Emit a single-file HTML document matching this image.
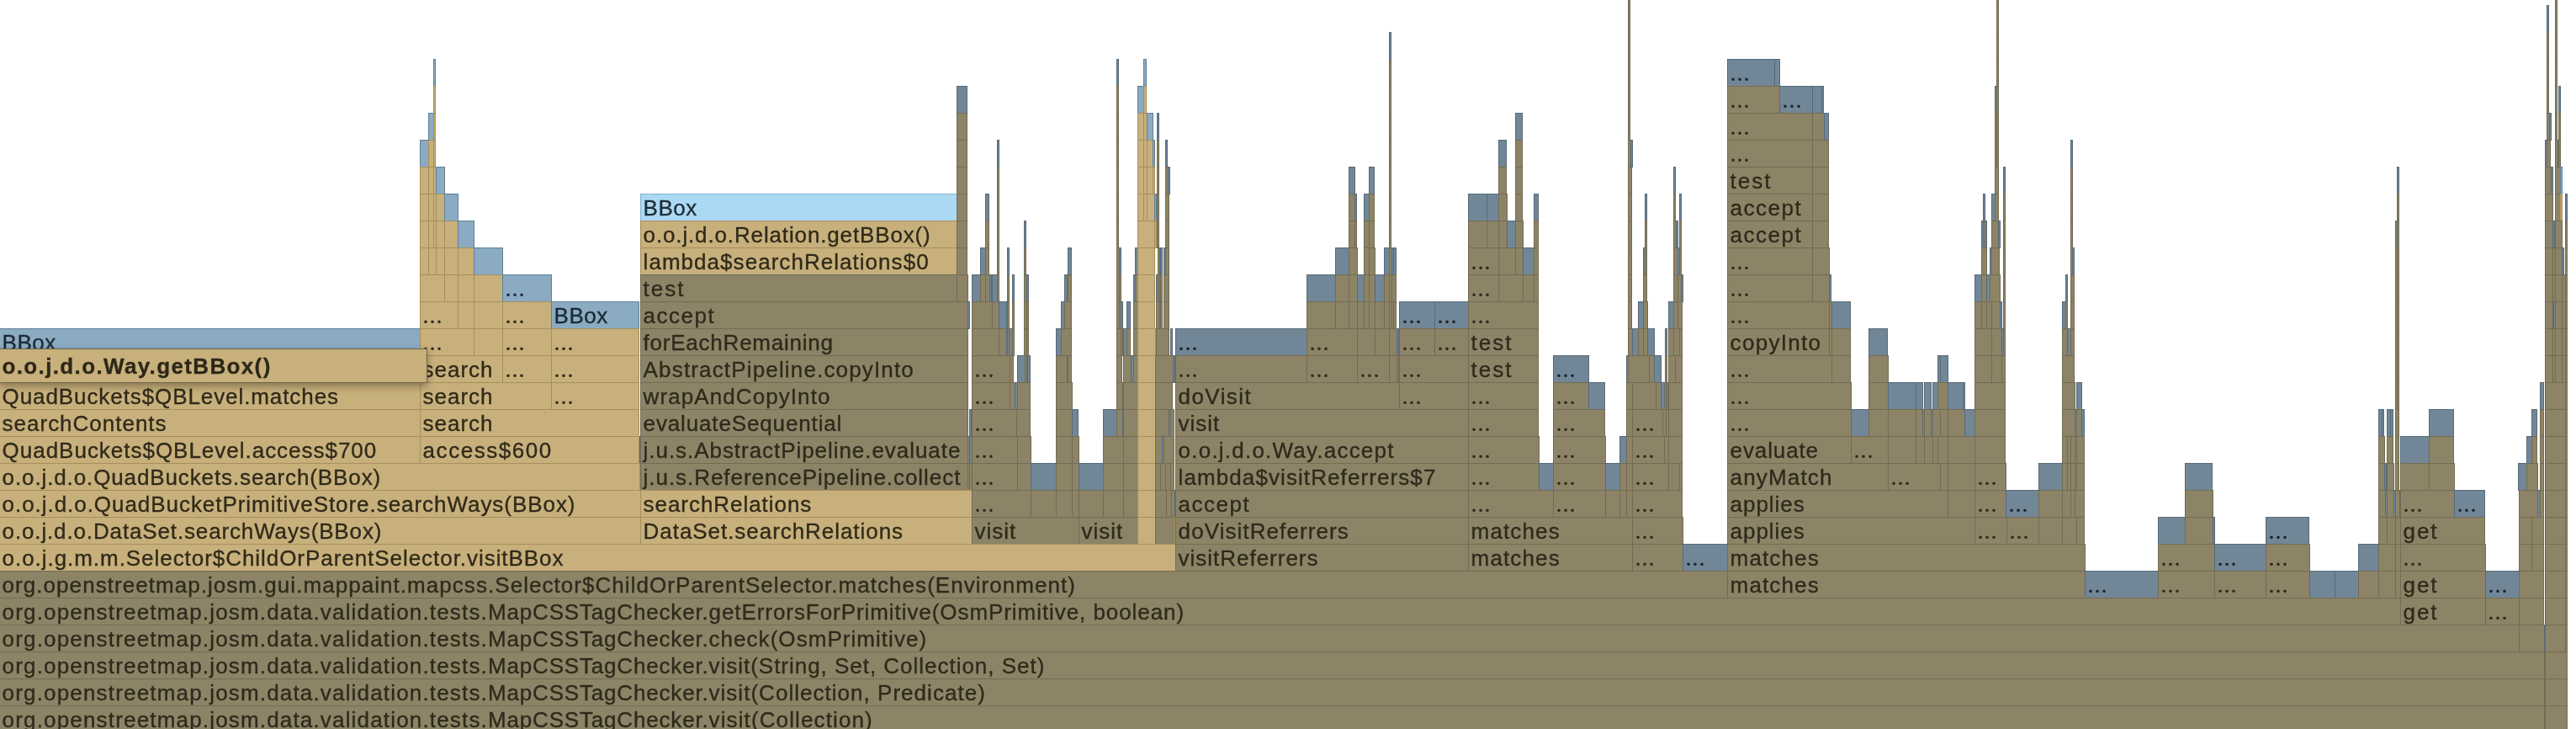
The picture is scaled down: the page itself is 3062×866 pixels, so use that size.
<!DOCTYPE html>
<html><head><meta charset="utf-8"><title>Flame graph</title>
<style>
html,body{margin:0;padding:0;background:#fff;}
body{width:3062px;height:866px;overflow:hidden;position:relative;font-family:"Liberation Sans",sans-serif;}
#g{position:absolute;left:0;top:0;width:3062px;height:866px;overflow:hidden;will-change:transform;}
.f{position:absolute;height:33px;box-sizing:border-box;border:1px solid;overflow:hidden;white-space:nowrap;font-size:26px;line-height:32px;letter-spacing:0.95px;}
.f span{position:absolute;left:2.6px;top:-0.3px;-webkit-text-stroke:0.35px;}
.f i{font-style:normal;}
.f span.d{left:3.2px;top:1.7px;font-family:"Liberation Serif",serif;font-weight:bold;font-size:22px;letter-spacing:2.5px;-webkit-text-stroke:0;}
.S{background:#c7b07b;border-color:#a68f5c;color:#302a1a}
.O{background:#8d8467;border-color:#736b52;color:#2e2a1c}
.B{background:#8aabc2;border-color:#5f7f98;color:#1d2a35}
.D{background:#718797;border-color:#566a79;color:#1b232b}
.L{background:#abd9f3;border-color:#83b3cf;color:#1f2d39}
#tip{position:absolute;left:-1px;top:414px;width:509px;height:41px;box-sizing:border-box;border:1px solid #6f6547;background:#c7b07b;color:#2d2718;font-weight:bold;font-size:26px;line-height:38px;letter-spacing:1.36px;white-space:nowrap;overflow:hidden;box-shadow:0 4px 9px rgba(0,0,0,0.33);-webkit-text-stroke:0.3px;}
#tip span{position:absolute;left:2.5px;top:1px;}
</style></head><body><div id="g">

<div class="f O" style="left:1935px;top:-26px;width:3px"></div>
<div class="f O" style="left:2373px;top:-26px;width:3px"></div>
<div class="f O" style="left:3037px;top:-26px;width:3px"></div>
<div class="f O" style="left:1935px;top:6px;width:3px"></div>
<div class="f O" style="left:2373px;top:6px;width:3px"></div>
<div class="f D" style="left:3027px;top:6px;width:3px"></div>
<div class="f O" style="left:3037px;top:6px;width:3px"></div>
<div class="f D" style="left:1651px;top:38px;width:3px"></div>
<div class="f O" style="left:1935px;top:38px;width:3px"></div>
<div class="f O" style="left:2373px;top:38px;width:3px"></div>
<div class="f O" style="left:3027px;top:38px;width:3px"></div>
<div class="f O" style="left:3037px;top:38px;width:3px"></div>
<div class="f B" style="left:515px;top:70px;width:3px"></div>
<div class="f D" style="left:1327px;top:70px;width:3px"></div>
<div class="f B" style="left:1359px;top:70px;width:4px"></div>
<div class="f O" style="left:1651px;top:70px;width:3px"></div>
<div class="f O" style="left:1935px;top:70px;width:3px"></div>
<div class="f D" style="left:2053px;top:70px;width:57px"><span class="d">...</span></div>
<div class="f D" style="left:2109px;top:70px;width:7px"></div>
<div class="f O" style="left:2373px;top:70px;width:3px"></div>
<div class="f O" style="left:3027px;top:70px;width:3px"></div>
<div class="f O" style="left:3037px;top:70px;width:3px"></div>
<div class="f S" style="left:515px;top:102px;width:3px"></div>
<div class="f D" style="left:1137px;top:102px;width:13px"></div>
<div class="f O" style="left:1327px;top:102px;width:3px"></div>
<div class="f B" style="left:1352px;top:102px;width:8px"></div>
<div class="f S" style="left:1359px;top:102px;width:4px"></div>
<div class="f O" style="left:1651px;top:102px;width:3px"></div>
<div class="f O" style="left:1935px;top:102px;width:3px"></div>
<div class="f O" style="left:2053px;top:102px;width:63px"><span class="d">...</span></div>
<div class="f D" style="left:2115px;top:102px;width:40px"><span class="d">...</span></div>
<div class="f D" style="left:2154px;top:102px;width:12px"></div>
<div class="f D" style="left:2165px;top:102px;width:3px"></div>
<div class="f D" style="left:2371px;top:102px;width:3px"></div>
<div class="f O" style="left:2373px;top:102px;width:3px"></div>
<div class="f O" style="left:3027px;top:102px;width:3px"></div>
<div class="f O" style="left:3037px;top:102px;width:3px"></div>
<div class="f D" style="left:3041px;top:102px;width:3px"></div>
<div class="f B" style="left:509px;top:134px;width:7px"></div>
<div class="f S" style="left:515px;top:134px;width:3px"></div>
<div class="f O" style="left:1137px;top:134px;width:13px"></div>
<div class="f O" style="left:1327px;top:134px;width:3px"></div>
<div class="f S" style="left:1352px;top:134px;width:8px"></div>
<div class="f S" style="left:1359px;top:134px;width:5px"></div>
<div class="f B" style="left:1363px;top:134px;width:8px"></div>
<div class="f D" style="left:1375px;top:134px;width:3px"></div>
<div class="f O" style="left:1651px;top:134px;width:3px"></div>
<div class="f D" style="left:1801px;top:134px;width:9px"></div>
<div class="f O" style="left:1935px;top:134px;width:3px"></div>
<div class="f O" style="left:2053px;top:134px;width:102px"><span class="d">...</span></div>
<div class="f O" style="left:2154px;top:134px;width:15px"></div>
<div class="f D" style="left:2168px;top:134px;width:6px"></div>
<div class="f O" style="left:2371px;top:134px;width:3px"></div>
<div class="f O" style="left:2373px;top:134px;width:3px"></div>
<div class="f O" style="left:3027px;top:134px;width:4px"></div>
<div class="f D" style="left:3030px;top:134px;width:3px"></div>
<div class="f O" style="left:3037px;top:134px;width:3px"></div>
<div class="f O" style="left:3041px;top:134px;width:3px"></div>
<div class="f B" style="left:499px;top:166px;width:11px"></div>
<div class="f S" style="left:509px;top:166px;width:7px"></div>
<div class="f S" style="left:515px;top:166px;width:3px"></div>
<div class="f O" style="left:1137px;top:166px;width:13px"></div>
<div class="f D" style="left:1185px;top:166px;width:3px"></div>
<div class="f O" style="left:1327px;top:166px;width:3px"></div>
<div class="f S" style="left:1352px;top:166px;width:8px"></div>
<div class="f S" style="left:1359px;top:166px;width:5px"></div>
<div class="f S" style="left:1363px;top:166px;width:8px"></div>
<div class="f B" style="left:1370px;top:166px;width:3px"></div>
<div class="f O" style="left:1375px;top:166px;width:3px"></div>
<div class="f D" style="left:1385px;top:166px;width:3px"></div>
<div class="f O" style="left:1651px;top:166px;width:3px"></div>
<div class="f D" style="left:1781px;top:166px;width:10px"></div>
<div class="f O" style="left:1801px;top:166px;width:9px"></div>
<div class="f O" style="left:1935px;top:166px;width:4px"></div>
<div class="f D" style="left:1938px;top:166px;width:3px"></div>
<div class="f O" style="left:2053px;top:166px;width:102px"><span class="d">...</span></div>
<div class="f O" style="left:2154px;top:166px;width:20px"></div>
<div class="f O" style="left:2371px;top:166px;width:3px"></div>
<div class="f O" style="left:2373px;top:166px;width:3px"></div>
<div class="f D" style="left:2461px;top:166px;width:3px"></div>
<div class="f D" style="left:3025px;top:166px;width:3px"></div>
<div class="f O" style="left:3027px;top:166px;width:5px"></div>
<div class="f O" style="left:3037px;top:166px;width:4px"></div>
<div class="f D" style="left:3040px;top:166px;width:2px"></div>
<div class="f O" style="left:3041px;top:166px;width:3px"></div>
<div class="f S" style="left:499px;top:198px;width:11px"></div>
<div class="f S" style="left:509px;top:198px;width:7px"></div>
<div class="f S" style="left:515px;top:198px;width:4px"></div>
<div class="f B" style="left:518px;top:198px;width:11px"></div>
<div class="f O" style="left:1137px;top:198px;width:13px"></div>
<div class="f O" style="left:1185px;top:198px;width:3px"></div>
<div class="f O" style="left:1327px;top:198px;width:3px"></div>
<div class="f S" style="left:1352px;top:198px;width:8px"></div>
<div class="f S" style="left:1359px;top:198px;width:5px"></div>
<div class="f S" style="left:1363px;top:198px;width:8px"></div>
<div class="f S" style="left:1370px;top:198px;width:3px"></div>
<div class="f O" style="left:1375px;top:198px;width:3px"></div>
<div class="f O" style="left:1385px;top:198px;width:4px"></div>
<div class="f D" style="left:1388px;top:198px;width:3px"></div>
<div class="f D" style="left:1603px;top:198px;width:8px"></div>
<div class="f D" style="left:1627px;top:198px;width:7px"></div>
<div class="f O" style="left:1651px;top:198px;width:3px"></div>
<div class="f O" style="left:1781px;top:198px;width:10px"></div>
<div class="f O" style="left:1801px;top:198px;width:9px"></div>
<div class="f O" style="left:1935px;top:198px;width:5px"></div>
<div class="f D" style="left:1989px;top:198px;width:3px"></div>
<div class="f O" style="left:2053px;top:198px;width:102px"><span style="letter-spacing:2.0px">test</span></div>
<div class="f O" style="left:2154px;top:198px;width:20px"></div>
<div class="f O" style="left:2371px;top:198px;width:5px"></div>
<div class="f D" style="left:2381px;top:198px;width:3px"></div>
<div class="f O" style="left:2461px;top:198px;width:3px"></div>
<div class="f D" style="left:2849px;top:198px;width:3px"></div>
<div class="f O" style="left:3025px;top:198px;width:8px"></div>
<div class="f D" style="left:3032px;top:198px;width:3px"></div>
<div class="f O" style="left:3037px;top:198px;width:7px"></div>
<div class="f B" style="left:3043px;top:198px;width:3px"></div>
<div class="f S" style="left:499px;top:230px;width:11px"></div>
<div class="f S" style="left:509px;top:230px;width:7px"></div>
<div class="f S" style="left:515px;top:230px;width:4px"></div>
<div class="f S" style="left:518px;top:230px;width:11px"></div>
<div class="f B" style="left:528px;top:230px;width:17px"></div>
<div class="f L" style="left:761px;top:230px;width:377px"><span style="letter-spacing:0.54px">BBox</span></div>
<div class="f O" style="left:1137px;top:230px;width:13px"></div>
<div class="f D" style="left:1171px;top:230px;width:5px"></div>
<div class="f O" style="left:1185px;top:230px;width:3px"></div>
<div class="f O" style="left:1327px;top:230px;width:3px"></div>
<div class="f S" style="left:1352px;top:230px;width:8px"></div>
<div class="f S" style="left:1359px;top:230px;width:5px"></div>
<div class="f S" style="left:1363px;top:230px;width:10px"></div>
<div class="f B" style="left:1372px;top:230px;width:3px"></div>
<div class="f O" style="left:1375px;top:230px;width:3px"></div>
<div class="f O" style="left:1385px;top:230px;width:5px"></div>
<div class="f O" style="left:1603px;top:230px;width:8px"></div>
<div class="f D" style="left:1610px;top:230px;width:3px"></div>
<div class="f D" style="left:1621px;top:230px;width:7px"></div>
<div class="f O" style="left:1627px;top:230px;width:7px"></div>
<div class="f O" style="left:1651px;top:230px;width:3px"></div>
<div class="f D" style="left:1745px;top:230px;width:23px"></div>
<div class="f D" style="left:1767px;top:230px;width:15px"></div>
<div class="f O" style="left:1781px;top:230px;width:11px"></div>
<div class="f O" style="left:1801px;top:230px;width:9px"></div>
<div class="f D" style="left:1823px;top:230px;width:6px"></div>
<div class="f O" style="left:1935px;top:230px;width:5px"></div>
<div class="f D" style="left:1955px;top:230px;width:3px"></div>
<div class="f O" style="left:1989px;top:230px;width:3px"></div>
<div class="f D" style="left:1996px;top:230px;width:3px"></div>
<div class="f O" style="left:2053px;top:230px;width:102px"><span style="letter-spacing:1.52px">accept</span></div>
<div class="f O" style="left:2154px;top:230px;width:20px"></div>
<div class="f D" style="left:2357px;top:230px;width:3px"></div>
<div class="f D" style="left:2367px;top:230px;width:5px"></div>
<div class="f O" style="left:2371px;top:230px;width:5px"></div>
<div class="f O" style="left:2381px;top:230px;width:3px"></div>
<div class="f O" style="left:2461px;top:230px;width:3px"></div>
<div class="f O" style="left:2849px;top:230px;width:3px"></div>
<div class="f O" style="left:3025px;top:230px;width:10px"></div>
<div class="f O" style="left:3037px;top:230px;width:7px"></div>
<div class="f S" style="left:3043px;top:230px;width:3px"></div>
<div class="f D" style="left:3049px;top:230px;width:3px"></div>
<div class="f S" style="left:499px;top:262px;width:11px"></div>
<div class="f S" style="left:509px;top:262px;width:7px"></div>
<div class="f S" style="left:515px;top:262px;width:4px"></div>
<div class="f S" style="left:518px;top:262px;width:11px"></div>
<div class="f S" style="left:528px;top:262px;width:17px"></div>
<div class="f B" style="left:544px;top:262px;width:20px"></div>
<div class="f S" style="left:761px;top:262px;width:377px"><span style="letter-spacing:0.86px">o.o.j.d.o.Relation.getBBox()</span></div>
<div class="f O" style="left:1137px;top:262px;width:13px"></div>
<div class="f O" style="left:1171px;top:262px;width:5px"></div>
<div class="f O" style="left:1185px;top:262px;width:3px"></div>
<div class="f D" style="left:1217px;top:262px;width:3px"></div>
<div class="f O" style="left:1327px;top:262px;width:3px"></div>
<div class="f S" style="left:1352px;top:262px;width:21px"></div>
<div class="f S" style="left:1372px;top:262px;width:3px"></div>
<div class="f O" style="left:1375px;top:262px;width:3px"></div>
<div class="f O" style="left:1385px;top:262px;width:5px"></div>
<div class="f O" style="left:1603px;top:262px;width:8px"></div>
<div class="f O" style="left:1610px;top:262px;width:3px"></div>
<div class="f O" style="left:1621px;top:262px;width:7px"></div>
<div class="f O" style="left:1627px;top:262px;width:7px"></div>
<div class="f O" style="left:1651px;top:262px;width:3px"></div>
<div class="f O" style="left:1745px;top:262px;width:23px"></div>
<div class="f O" style="left:1767px;top:262px;width:15px"></div>
<div class="f O" style="left:1781px;top:262px;width:11px"></div>
<div class="f D" style="left:1791px;top:262px;width:11px"></div>
<div class="f O" style="left:1801px;top:262px;width:10px"></div>
<div class="f O" style="left:1823px;top:262px;width:6px"></div>
<div class="f O" style="left:1935px;top:262px;width:5px"></div>
<div class="f O" style="left:1955px;top:262px;width:3px"></div>
<div class="f O" style="left:1989px;top:262px;width:4px"></div>
<div class="f D" style="left:1992px;top:262px;width:3px"></div>
<div class="f O" style="left:1996px;top:262px;width:3px"></div>
<div class="f O" style="left:2053px;top:262px;width:102px"><span style="letter-spacing:1.52px">accept</span></div>
<div class="f O" style="left:2154px;top:262px;width:20px"></div>
<div class="f D" style="left:2355px;top:262px;width:3px"></div>
<div class="f O" style="left:2357px;top:262px;width:3px"></div>
<div class="f D" style="left:2359px;top:262px;width:3px"></div>
<div class="f O" style="left:2367px;top:262px;width:9px"></div>
<div class="f D" style="left:2375px;top:262px;width:3px"></div>
<div class="f O" style="left:2381px;top:262px;width:3px"></div>
<div class="f O" style="left:2461px;top:262px;width:3px"></div>
<div class="f D" style="left:2847px;top:262px;width:3px"></div>
<div class="f O" style="left:2849px;top:262px;width:3px"></div>
<div class="f O" style="left:3025px;top:262px;width:10px"></div>
<div class="f D" style="left:3034px;top:262px;width:3px"></div>
<div class="f O" style="left:3037px;top:262px;width:9px"></div>
<div class="f O" style="left:3049px;top:262px;width:3px"></div>
<div class="f S" style="left:499px;top:294px;width:11px"></div>
<div class="f S" style="left:509px;top:294px;width:10px"></div>
<div class="f S" style="left:518px;top:294px;width:11px"></div>
<div class="f S" style="left:528px;top:294px;width:17px"></div>
<div class="f S" style="left:544px;top:294px;width:20px"></div>
<div class="f B" style="left:563px;top:294px;width:35px"></div>
<div class="f S" style="left:761px;top:294px;width:377px"><span style="letter-spacing:1.04px">lambda$searchRelations$0</span></div>
<div class="f O" style="left:1137px;top:294px;width:13px"></div>
<div class="f D" style="left:1165px;top:294px;width:7px"></div>
<div class="f O" style="left:1171px;top:294px;width:5px"></div>
<div class="f O" style="left:1185px;top:294px;width:3px"></div>
<div class="f D" style="left:1197px;top:294px;width:3px"></div>
<div class="f O" style="left:1217px;top:294px;width:3px"></div>
<div class="f D" style="left:1269px;top:294px;width:5px"></div>
<div class="f O" style="left:1327px;top:294px;width:4px"></div>
<div class="f D" style="left:1330px;top:294px;width:3px"></div>
<div class="f D" style="left:1349px;top:294px;width:4px"></div>
<div class="f S" style="left:1352px;top:294px;width:21px"></div>
<div class="f O" style="left:1376px;top:294px;width:3px"></div>
<div class="f D" style="left:1379px;top:294px;width:3px"></div>
<div class="f D" style="left:1383px;top:294px;width:3px"></div>
<div class="f O" style="left:1385px;top:294px;width:5px"></div>
<div class="f D" style="left:1587px;top:294px;width:17px"></div>
<div class="f O" style="left:1603px;top:294px;width:11px"></div>
<div class="f O" style="left:1621px;top:294px;width:7px"></div>
<div class="f O" style="left:1627px;top:294px;width:8px"></div>
<div class="f D" style="left:1645px;top:294px;width:7px"></div>
<div class="f O" style="left:1651px;top:294px;width:4px"></div>
<div class="f D" style="left:1654px;top:294px;width:3px"></div>
<div class="f D" style="left:1656px;top:294px;width:4px"></div>
<div class="f O" style="left:1745px;top:294px;width:37px"><span class="d">...</span></div>
<div class="f O" style="left:1781px;top:294px;width:21px"></div>
<div class="f O" style="left:1801px;top:294px;width:10px"></div>
<div class="f D" style="left:1810px;top:294px;width:14px"></div>
<div class="f O" style="left:1823px;top:294px;width:6px"></div>
<div class="f O" style="left:1935px;top:294px;width:5px"></div>
<div class="f D" style="left:1953px;top:294px;width:3px"></div>
<div class="f O" style="left:1955px;top:294px;width:3px"></div>
<div class="f O" style="left:1989px;top:294px;width:6px"></div>
<div class="f D" style="left:1994px;top:294px;width:3px"></div>
<div class="f O" style="left:1996px;top:294px;width:3px"></div>
<div class="f O" style="left:2053px;top:294px;width:102px"><span class="d">...</span></div>
<div class="f O" style="left:2154px;top:294px;width:21px"></div>
<div class="f O" style="left:2355px;top:294px;width:7px"></div>
<div class="f D" style="left:2365px;top:294px;width:3px"></div>
<div class="f O" style="left:2367px;top:294px;width:10px"></div>
<div class="f O" style="left:2381px;top:294px;width:3px"></div>
<div class="f O" style="left:2461px;top:294px;width:3px"></div>
<div class="f D" style="left:2463px;top:294px;width:3px"></div>
<div class="f O" style="left:2847px;top:294px;width:3px"></div>
<div class="f O" style="left:2849px;top:294px;width:3px"></div>
<div class="f O" style="left:3025px;top:294px;width:10px"></div>
<div class="f O" style="left:3034px;top:294px;width:4px"></div>
<div class="f O" style="left:3037px;top:294px;width:9px"></div>
<div class="f D" style="left:3045px;top:294px;width:3px"></div>
<div class="f O" style="left:3049px;top:294px;width:3px"></div>
<div class="f S" style="left:499px;top:326px;width:30px"></div>
<div class="f S" style="left:528px;top:326px;width:17px"></div>
<div class="f S" style="left:544px;top:326px;width:20px"></div>
<div class="f S" style="left:563px;top:326px;width:35px"></div>
<div class="f B" style="left:597px;top:326px;width:59px"><span class="d">...</span></div>
<div class="f O" style="left:761px;top:326px;width:377px"><span style="letter-spacing:2.0px">test</span></div>
<div class="f O" style="left:1137px;top:326px;width:14px"></div>
<div class="f D" style="left:1155px;top:326px;width:11px"></div>
<div class="f O" style="left:1165px;top:326px;width:7px"></div>
<div class="f O" style="left:1171px;top:326px;width:6px"></div>
<div class="f D" style="left:1176px;top:326px;width:3px"></div>
<div class="f D" style="left:1178px;top:326px;width:2px"></div>
<div class="f D" style="left:1179px;top:326px;width:7px"></div>
<div class="f O" style="left:1185px;top:326px;width:3px"></div>
<div class="f O" style="left:1197px;top:326px;width:3px"></div>
<div class="f D" style="left:1203px;top:326px;width:3px"></div>
<div class="f O" style="left:1217px;top:326px;width:4px"></div>
<div class="f D" style="left:1220px;top:326px;width:3px"></div>
<div class="f D" style="left:1265px;top:326px;width:4px"></div>
<div class="f O" style="left:1268px;top:326px;width:2px"></div>
<div class="f O" style="left:1269px;top:326px;width:5px"></div>
<div class="f O" style="left:1327px;top:326px;width:4px"></div>
<div class="f O" style="left:1330px;top:326px;width:3px"></div>
<div class="f D" style="left:1347px;top:326px;width:3px"></div>
<div class="f O" style="left:1349px;top:326px;width:4px"></div>
<div class="f S" style="left:1352px;top:326px;width:21px"></div>
<div class="f D" style="left:1374px;top:326px;width:3px"></div>
<div class="f O" style="left:1376px;top:326px;width:3px"></div>
<div class="f O" style="left:1379px;top:326px;width:3px"></div>
<div class="f O" style="left:1383px;top:326px;width:7px"></div>
<div class="f D" style="left:1553px;top:326px;width:35px"></div>
<div class="f O" style="left:1587px;top:326px;width:17px"></div>
<div class="f O" style="left:1603px;top:326px;width:11px"></div>
<div class="f D" style="left:1613px;top:326px;width:9px"></div>
<div class="f O" style="left:1621px;top:326px;width:7px"></div>
<div class="f O" style="left:1627px;top:326px;width:8px"></div>
<div class="f D" style="left:1634px;top:326px;width:12px"></div>
<div class="f O" style="left:1645px;top:326px;width:7px"></div>
<div class="f O" style="left:1651px;top:326px;width:4px"></div>
<div class="f O" style="left:1654px;top:326px;width:6px"></div>
<div class="f O" style="left:1745px;top:326px;width:37px"><span class="d">...</span></div>
<div class="f O" style="left:1781px;top:326px;width:30px"></div>
<div class="f O" style="left:1810px;top:326px;width:14px"></div>
<div class="f O" style="left:1823px;top:326px;width:6px"></div>
<div class="f O" style="left:1935px;top:326px;width:5px"></div>
<div class="f O" style="left:1953px;top:326px;width:5px"></div>
<div class="f O" style="left:1989px;top:326px;width:6px"></div>
<div class="f O" style="left:1994px;top:326px;width:5px"></div>
<div class="f D" style="left:1998px;top:326px;width:3px"></div>
<div class="f O" style="left:2053px;top:326px;width:102px"><span class="d">...</span></div>
<div class="f O" style="left:2154px;top:326px;width:21px"></div>
<div class="f D" style="left:2174px;top:326px;width:3px"></div>
<div class="f D" style="left:2347px;top:326px;width:9px"></div>
<div class="f O" style="left:2355px;top:326px;width:7px"></div>
<div class="f D" style="left:2361px;top:326px;width:5px"></div>
<div class="f O" style="left:2365px;top:326px;width:13px"></div>
<div class="f O" style="left:2381px;top:326px;width:3px"></div>
<div class="f D" style="left:2455px;top:326px;width:3px"></div>
<div class="f O" style="left:2461px;top:326px;width:5px"></div>
<div class="f O" style="left:2847px;top:326px;width:3px"></div>
<div class="f O" style="left:2849px;top:326px;width:3px"></div>
<div class="f O" style="left:3025px;top:326px;width:10px"></div>
<div class="f O" style="left:3034px;top:326px;width:4px"></div>
<div class="f O" style="left:3037px;top:326px;width:9px"></div>
<div class="f O" style="left:3045px;top:326px;width:5px"></div>
<div class="f O" style="left:3049px;top:326px;width:3px"></div>
<div class="f S" style="left:499px;top:358px;width:46px"><span class="d">...</span></div>
<div class="f S" style="left:544px;top:358px;width:20px"></div>
<div class="f S" style="left:563px;top:358px;width:35px"></div>
<div class="f S" style="left:597px;top:358px;width:59px"><span class="d">...</span></div>
<div class="f B" style="left:655px;top:358px;width:105px"><span style="letter-spacing:0.54px">BBox</span></div>
<div class="f O" style="left:761px;top:358px;width:390px"><span style="letter-spacing:1.52px">accept</span></div>
<div class="f D" style="left:1150px;top:358px;width:3px"></div>
<div class="f O" style="left:1155px;top:358px;width:25px"></div>
<div class="f O" style="left:1179px;top:358px;width:9px"></div>
<div class="f D" style="left:1187px;top:358px;width:10px"></div>
<div class="f O" style="left:1197px;top:358px;width:3px"></div>
<div class="f O" style="left:1203px;top:358px;width:3px"></div>
<div class="f O" style="left:1217px;top:358px;width:4px"></div>
<div class="f O" style="left:1220px;top:358px;width:3px"></div>
<div class="f D" style="left:1261px;top:358px;width:5px"></div>
<div class="f O" style="left:1265px;top:358px;width:9px"></div>
<div class="f O" style="left:1327px;top:358px;width:4px"></div>
<div class="f O" style="left:1330px;top:358px;width:3px"></div>
<div class="f D" style="left:1332px;top:358px;width:3px"></div>
<div class="f D" style="left:1339px;top:358px;width:5px"></div>
<div class="f O" style="left:1347px;top:358px;width:6px"></div>
<div class="f S" style="left:1352px;top:358px;width:21px"></div>
<div class="f O" style="left:1374px;top:358px;width:5px"></div>
<div class="f D" style="left:1378px;top:358px;width:2px"></div>
<div class="f O" style="left:1379px;top:358px;width:3px"></div>
<div class="f O" style="left:1383px;top:358px;width:7px"></div>
<div class="f O" style="left:1553px;top:358px;width:35px"></div>
<div class="f O" style="left:1587px;top:358px;width:17px"></div>
<div class="f O" style="left:1603px;top:358px;width:11px"></div>
<div class="f O" style="left:1613px;top:358px;width:9px"></div>
<div class="f O" style="left:1621px;top:358px;width:7px"></div>
<div class="f O" style="left:1627px;top:358px;width:8px"></div>
<div class="f O" style="left:1634px;top:358px;width:12px"></div>
<div class="f O" style="left:1645px;top:358px;width:7px"></div>
<div class="f O" style="left:1651px;top:358px;width:4px"></div>
<div class="f O" style="left:1654px;top:358px;width:3px"></div>
<div class="f O" style="left:1656px;top:358px;width:4px"></div>
<div class="f D" style="left:1663px;top:358px;width:43px"><span class="d">...</span></div>
<div class="f D" style="left:1705px;top:358px;width:41px"><span class="d">...</span></div>
<div class="f O" style="left:1745px;top:358px;width:84px"><span class="d">...</span></div>
<div class="f O" style="left:1935px;top:358px;width:5px"></div>
<div class="f D" style="left:1947px;top:358px;width:7px"></div>
<div class="f O" style="left:1953px;top:358px;width:6px"></div>
<div class="f D" style="left:1983px;top:358px;width:7px"></div>
<div class="f O" style="left:1989px;top:358px;width:6px"></div>
<div class="f O" style="left:1994px;top:358px;width:6px"></div>
<div class="f O" style="left:2053px;top:358px;width:122px"><span class="d">...</span></div>
<div class="f O" style="left:2174px;top:358px;width:4px"></div>
<div class="f D" style="left:2177px;top:358px;width:23px"></div>
<div class="f O" style="left:2347px;top:358px;width:9px"></div>
<div class="f O" style="left:2355px;top:358px;width:7px"></div>
<div class="f O" style="left:2361px;top:358px;width:7px"></div>
<div class="f O" style="left:2367px;top:358px;width:11px"></div>
<div class="f D" style="left:2377px;top:358px;width:3px"></div>
<div class="f O" style="left:2381px;top:358px;width:3px"></div>
<div class="f D" style="left:2451px;top:358px;width:5px"></div>
<div class="f O" style="left:2455px;top:358px;width:3px"></div>
<div class="f O" style="left:2461px;top:358px;width:5px"></div>
<div class="f O" style="left:2847px;top:358px;width:3px"></div>
<div class="f O" style="left:2849px;top:358px;width:3px"></div>
<div class="f O" style="left:3025px;top:358px;width:10px"></div>
<div class="f O" style="left:3034px;top:358px;width:4px"></div>
<div class="f D" style="left:3035px;top:358px;width:3px"></div>
<div class="f O" style="left:3037px;top:358px;width:9px"></div>
<div class="f O" style="left:3045px;top:358px;width:5px"></div>
<div class="f O" style="left:3049px;top:358px;width:3px"></div>
<div class="f B" style="left:-1px;top:390px;width:501px"><span style="letter-spacing:0.54px">BBox</span></div>
<div class="f S" style="left:499px;top:390px;width:65px"><span class="d">...</span></div>
<div class="f S" style="left:563px;top:390px;width:35px"></div>
<div class="f S" style="left:597px;top:390px;width:59px"><span class="d">...</span></div>
<div class="f S" style="left:655px;top:390px;width:105px"><span class="d">...</span></div>
<div class="f O" style="left:761px;top:390px;width:390px"><span style="letter-spacing:0.77px">forEachRemaining</span></div>
<div class="f O" style="left:1155px;top:390px;width:33px"></div>
<div class="f O" style="left:1187px;top:390px;width:10px"></div>
<div class="f D" style="left:1196px;top:390px;width:2px"></div>
<div class="f O" style="left:1197px;top:390px;width:3px"></div>
<div class="f D" style="left:1199px;top:390px;width:5px"></div>
<div class="f O" style="left:1203px;top:390px;width:3px"></div>
<div class="f O" style="left:1217px;top:390px;width:4px"></div>
<div class="f O" style="left:1220px;top:390px;width:3px"></div>
<div class="f D" style="left:1255px;top:390px;width:7px"></div>
<div class="f O" style="left:1261px;top:390px;width:13px"></div>
<div class="f O" style="left:1327px;top:390px;width:6px"></div>
<div class="f O" style="left:1332px;top:390px;width:3px"></div>
<div class="f D" style="left:1335px;top:390px;width:5px"></div>
<div class="f O" style="left:1339px;top:390px;width:5px"></div>
<div class="f O" style="left:1347px;top:390px;width:6px"></div>
<div class="f S" style="left:1352px;top:390px;width:22px"></div>
<div class="f O" style="left:1374px;top:390px;width:16px"></div>
<div class="f D" style="left:1391px;top:390px;width:3px"></div>
<div class="f D" style="left:1397px;top:390px;width:157px"><span class="d">...</span></div>
<div class="f O" style="left:1553px;top:390px;width:61px"><span class="d">...</span></div>
<div class="f O" style="left:1613px;top:390px;width:22px"></div>
<div class="f O" style="left:1634px;top:390px;width:18px"></div>
<div class="f O" style="left:1651px;top:390px;width:10px"></div>
<div class="f D" style="left:1660px;top:390px;width:3px"></div>
<div class="f O" style="left:1663px;top:390px;width:43px"><span class="d">...</span></div>
<div class="f O" style="left:1705px;top:390px;width:41px"><span class="d">...</span></div>
<div class="f O" style="left:1745px;top:390px;width:84px"><span style="letter-spacing:2.0px">test</span></div>
<div class="f O" style="left:1935px;top:390px;width:6px"></div>
<div class="f D" style="left:1940px;top:390px;width:8px"></div>
<div class="f O" style="left:1947px;top:390px;width:7px"></div>
<div class="f O" style="left:1953px;top:390px;width:6px"></div>
<div class="f D" style="left:1958px;top:390px;width:9px"></div>
<div class="f D" style="left:1979px;top:390px;width:3px"></div>
<div class="f O" style="left:1983px;top:390px;width:7px"></div>
<div class="f O" style="left:1989px;top:390px;width:8px"></div>
<div class="f O" style="left:1996px;top:390px;width:4px"></div>
<div class="f O" style="left:2053px;top:390px;width:122px"><span style="letter-spacing:1.31px">copyInto</span></div>
<div class="f O" style="left:2174px;top:390px;width:4px"></div>
<div class="f O" style="left:2177px;top:390px;width:23px"></div>
<div class="f D" style="left:2221px;top:390px;width:23px"></div>
<div class="f O" style="left:2347px;top:390px;width:21px"></div>
<div class="f O" style="left:2367px;top:390px;width:13px"></div>
<div class="f D" style="left:2379px;top:390px;width:3px"></div>
<div class="f O" style="left:2381px;top:390px;width:3px"></div>
<div class="f O" style="left:2451px;top:390px;width:7px"></div>
<div class="f D" style="left:2457px;top:390px;width:5px"></div>
<div class="f O" style="left:2461px;top:390px;width:5px"></div>
<div class="f O" style="left:2847px;top:390px;width:3px"></div>
<div class="f O" style="left:2849px;top:390px;width:3px"></div>
<div class="f O" style="left:3025px;top:390px;width:10px"></div>
<div class="f O" style="left:3034px;top:390px;width:4px"></div>
<div class="f O" style="left:3037px;top:390px;width:9px"></div>
<div class="f O" style="left:3045px;top:390px;width:5px"></div>
<div class="f O" style="left:3049px;top:390px;width:3px"></div>
<div class="f S" style="left:-1px;top:422px;width:501px"></div>
<div class="f S" style="left:499px;top:422px;width:99px"><span style="letter-spacing:0.98px">search</span></div>
<div class="f S" style="left:597px;top:422px;width:59px"><span class="d">...</span></div>
<div class="f S" style="left:655px;top:422px;width:105px"><span class="d">...</span></div>
<div class="f O" style="left:761px;top:422px;width:390px"><span style="letter-spacing:1.16px">AbstractPipeline.copyInto</span></div>
<div class="f O" style="left:1155px;top:422px;width:46px"><span class="d">...</span></div>
<div class="f O" style="left:1200px;top:422px;width:5px"></div>
<div class="f D" style="left:1209px;top:422px;width:10px"></div>
<div class="f O" style="left:1218px;top:422px;width:3px"></div>
<div class="f O" style="left:1220px;top:422px;width:2px"></div>
<div class="f D" style="left:1221px;top:422px;width:4px"></div>
<div class="f O" style="left:1255px;top:422px;width:14px"></div>
<div class="f D" style="left:1268px;top:422px;width:2px"></div>
<div class="f O" style="left:1269px;top:422px;width:5px"></div>
<div class="f O" style="left:1327px;top:422px;width:7px"></div>
<div class="f O" style="left:1335px;top:422px;width:10px"></div>
<div class="f D" style="left:1344px;top:422px;width:4px"></div>
<div class="f O" style="left:1347px;top:422px;width:6px"></div>
<div class="f S" style="left:1352px;top:422px;width:22px"></div>
<div class="f O" style="left:1373px;top:422px;width:22px"></div>
<div class="f D" style="left:1394px;top:422px;width:3px"></div>
<div class="f O" style="left:1397px;top:422px;width:157px"><span class="d">...</span></div>
<div class="f O" style="left:1553px;top:422px;width:61px"><span class="d">...</span></div>
<div class="f O" style="left:1613px;top:422px;width:39px"><span class="d">...</span></div>
<div class="f O" style="left:1651px;top:422px;width:10px"></div>
<div class="f O" style="left:1660px;top:422px;width:3px"></div>
<div class="f O" style="left:1663px;top:422px;width:83px"><span class="d">...</span></div>
<div class="f O" style="left:1745px;top:422px;width:84px"><span style="letter-spacing:2.0px">test</span></div>
<div class="f D" style="left:1846px;top:422px;width:43px"><span class="d">...</span></div>
<div class="f D" style="left:1933px;top:422px;width:3px"></div>
<div class="f O" style="left:1935px;top:422px;width:26px"></div>
<div class="f O" style="left:1960px;top:422px;width:7px"></div>
<div class="f D" style="left:1966px;top:422px;width:9px"></div>
<div class="f O" style="left:1979px;top:422px;width:3px"></div>
<div class="f O" style="left:1983px;top:422px;width:9px"></div>
<div class="f O" style="left:1991px;top:422px;width:9px"></div>
<div class="f O" style="left:2053px;top:422px;width:125px"><span class="d">...</span></div>
<div class="f O" style="left:2177px;top:422px;width:23px"></div>
<div class="f O" style="left:2221px;top:422px;width:24px"></div>
<div class="f D" style="left:2303px;top:422px;width:4px"></div>
<div class="f D" style="left:2306px;top:422px;width:10px"></div>
<div class="f O" style="left:2347px;top:422px;width:21px"></div>
<div class="f O" style="left:2367px;top:422px;width:13px"></div>
<div class="f O" style="left:2379px;top:422px;width:5px"></div>
<div class="f O" style="left:2451px;top:422px;width:15px"></div>
<div class="f O" style="left:2847px;top:422px;width:3px"></div>
<div class="f O" style="left:2849px;top:422px;width:3px"></div>
<div class="f O" style="left:3025px;top:422px;width:10px"></div>
<div class="f O" style="left:3034px;top:422px;width:4px"></div>
<div class="f O" style="left:3037px;top:422px;width:9px"></div>
<div class="f O" style="left:3045px;top:422px;width:5px"></div>
<div class="f O" style="left:3049px;top:422px;width:3px"></div>
<div class="f S" style="left:-1px;top:454px;width:501px"><span style="letter-spacing:0.91px">QuadBuckets$QBLevel.matches</span></div>
<div class="f S" style="left:499px;top:454px;width:157px"><span style="letter-spacing:0.98px">search</span></div>
<div class="f S" style="left:655px;top:454px;width:105px"><span class="d">...</span></div>
<div class="f O" style="left:761px;top:454px;width:390px"><span style="letter-spacing:1.08px">wrapAndCopyInto</span></div>
<div class="f O" style="left:1155px;top:454px;width:46px"><span class="d">...</span></div>
<div class="f O" style="left:1200px;top:454px;width:7px"></div>
<div class="f D" style="left:1206px;top:454px;width:4px"></div>
<div class="f O" style="left:1209px;top:454px;width:16px"></div>
<div class="f O" style="left:1255px;top:454px;width:20px"></div>
<div class="f O" style="left:1327px;top:454px;width:8px"></div>
<div class="f O" style="left:1335px;top:454px;width:18px"></div>
<div class="f S" style="left:1352px;top:454px;width:22px"></div>
<div class="f O" style="left:1373px;top:454px;width:21px"></div>
<div class="f O" style="left:1397px;top:454px;width:267px"><span style="letter-spacing:1.42px">doVisit</span></div>
<div class="f O" style="left:1663px;top:454px;width:83px"><span class="d">...</span></div>
<div class="f O" style="left:1745px;top:454px;width:84px"><span class="d">...</span></div>
<div class="f O" style="left:1846px;top:454px;width:43px"><span class="d">...</span></div>
<div class="f D" style="left:1888px;top:454px;width:20px"></div>
<div class="f O" style="left:1933px;top:454px;width:8px"></div>
<div class="f O" style="left:1940px;top:454px;width:29px"></div>
<div class="f O" style="left:1968px;top:454px;width:7px"></div>
<div class="f D" style="left:1974px;top:454px;width:5px"></div>
<div class="f O" style="left:1978px;top:454px;width:3px"></div>
<div class="f D" style="left:1980px;top:454px;width:3px"></div>
<div class="f O" style="left:1982px;top:454px;width:2px"></div>
<div class="f O" style="left:1983px;top:454px;width:17px"></div>
<div class="f O" style="left:2053px;top:454px;width:148px"><span class="d">...</span></div>
<div class="f O" style="left:2221px;top:454px;width:24px"></div>
<div class="f D" style="left:2244px;top:454px;width:34px"></div>
<div class="f D" style="left:2277px;top:454px;width:9px"></div>
<div class="f D" style="left:2287px;top:454px;width:9px"></div>
<div class="f D" style="left:2297px;top:454px;width:7px"></div>
<div class="f O" style="left:2303px;top:454px;width:13px"></div>
<div class="f D" style="left:2315px;top:454px;width:19px"></div>
<div class="f D" style="left:2333px;top:454px;width:3px"></div>
<div class="f O" style="left:2347px;top:454px;width:37px"></div>
<div class="f O" style="left:2451px;top:454px;width:16px"></div>
<div class="f D" style="left:2468px;top:454px;width:7px"></div>
<div class="f O" style="left:2847px;top:454px;width:3px"></div>
<div class="f O" style="left:2849px;top:454px;width:3px"></div>
<div class="f D" style="left:3019px;top:454px;width:5px"></div>
<div class="f O" style="left:3025px;top:454px;width:25px"></div>
<div class="f O" style="left:3049px;top:454px;width:3px"></div>
<div class="f S" style="left:-1px;top:486px;width:501px"><span style="letter-spacing:0.99px">searchContents</span></div>
<div class="f S" style="left:499px;top:486px;width:261px"><span style="letter-spacing:0.98px">search</span></div>
<div class="f O" style="left:761px;top:486px;width:390px"><span style="letter-spacing:0.86px">evaluateSequential</span></div>
<div class="f D" style="left:1152px;top:486px;width:3px"></div>
<div class="f O" style="left:1155px;top:486px;width:54px"><span class="d">...</span></div>
<div class="f O" style="left:1208px;top:486px;width:17px"></div>
<div class="f O" style="left:1255px;top:486px;width:20px"></div>
<div class="f D" style="left:1274px;top:486px;width:8px"></div>
<div class="f D" style="left:1311px;top:486px;width:17px"></div>
<div class="f O" style="left:1327px;top:486px;width:8px"></div>
<div class="f D" style="left:1334px;top:486px;width:2px"></div>
<div class="f O" style="left:1335px;top:486px;width:18px"></div>
<div class="f S" style="left:1352px;top:486px;width:22px"></div>
<div class="f O" style="left:1373px;top:486px;width:17px"></div>
<div class="f D" style="left:1389px;top:486px;width:3px"></div>
<div class="f O" style="left:1391px;top:486px;width:5px"></div>
<div class="f O" style="left:1397px;top:486px;width:349px"><span>visit</span></div>
<div class="f O" style="left:1745px;top:486px;width:84px"><span class="d">...</span></div>
<div class="f O" style="left:1846px;top:486px;width:62px"><span class="d">...</span></div>
<div class="f O" style="left:1933px;top:486px;width:8px"></div>
<div class="f O" style="left:1940px;top:486px;width:37px"><span class="d">...</span></div>
<div class="f O" style="left:1976px;top:486px;width:5px"></div>
<div class="f O" style="left:1980px;top:486px;width:4px"></div>
<div class="f O" style="left:1983px;top:486px;width:17px"></div>
<div class="f O" style="left:2053px;top:486px;width:148px"><span class="d">...</span></div>
<div class="f D" style="left:2200px;top:486px;width:22px"></div>
<div class="f O" style="left:2221px;top:486px;width:24px"></div>
<div class="f O" style="left:2244px;top:486px;width:34px"></div>
<div class="f O" style="left:2277px;top:486px;width:9px"></div>
<div class="f D" style="left:2285px;top:486px;width:3px"></div>
<div class="f O" style="left:2287px;top:486px;width:9px"></div>
<div class="f D" style="left:2295px;top:486px;width:3px"></div>
<div class="f O" style="left:2297px;top:486px;width:10px"></div>
<div class="f O" style="left:2306px;top:486px;width:10px"></div>
<div class="f O" style="left:2315px;top:486px;width:21px"></div>
<div class="f D" style="left:2335px;top:486px;width:13px"></div>
<div class="f O" style="left:2347px;top:486px;width:37px"></div>
<div class="f O" style="left:2451px;top:486px;width:16px"></div>
<div class="f D" style="left:2466px;top:486px;width:3px"></div>
<div class="f O" style="left:2468px;top:486px;width:7px"></div>
<div class="f D" style="left:2474px;top:486px;width:4px"></div>
<div class="f D" style="left:2827px;top:486px;width:5px"></div>
<div class="f D" style="left:2831px;top:486px;width:3px"></div>
<div class="f D" style="left:2837px;top:486px;width:5px"></div>
<div class="f D" style="left:2841px;top:486px;width:4px"></div>
<div class="f O" style="left:2847px;top:486px;width:5px"></div>
<div class="f D" style="left:2887px;top:486px;width:30px"></div>
<div class="f D" style="left:3009px;top:486px;width:7px"></div>
<div class="f O" style="left:3019px;top:486px;width:5px"></div>
<div class="f O" style="left:3025px;top:486px;width:25px"></div>
<div class="f O" style="left:3049px;top:486px;width:3px"></div>
<div class="f S" style="left:-1px;top:518px;width:501px"><span style="letter-spacing:0.98px">QuadBuckets$QBLevel.access$700</span></div>
<div class="f S" style="left:499px;top:518px;width:261px"><span style="letter-spacing:1.54px">access$600</span></div>
<div class="f D" style="left:760px;top:518px;width:2px"></div>
<div class="f O" style="left:761px;top:518px;width:390px"><span>j.u.s.AbstractPipeline.evaluate</span></div>
<div class="f O" style="left:1150px;top:518px;width:3px"></div>
<div class="f D" style="left:1152px;top:518px;width:4px"></div>
<div class="f O" style="left:1155px;top:518px;width:55px"><span class="d">...</span></div>
<div class="f O" style="left:1209px;top:518px;width:17px"></div>
<div class="f O" style="left:1255px;top:518px;width:20px"></div>
<div class="f O" style="left:1274px;top:518px;width:9px"></div>
<div class="f O" style="left:1311px;top:518px;width:25px"></div>
<div class="f O" style="left:1335px;top:518px;width:18px"></div>
<div class="f S" style="left:1352px;top:518px;width:22px"></div>
<div class="f O" style="left:1373px;top:518px;width:9px"></div>
<div class="f D" style="left:1381px;top:518px;width:3px"></div>
<div class="f O" style="left:1383px;top:518px;width:13px"></div>
<div class="f O" style="left:1397px;top:518px;width:349px"><span style="letter-spacing:1.22px">o.o.j.d.o.Way.accept</span></div>
<div class="f O" style="left:1745px;top:518px;width:85px"><span class="d">...</span></div>
<div class="f O" style="left:1846px;top:518px;width:63px"><span class="d">...</span></div>
<div class="f D" style="left:1925px;top:518px;width:9px"></div>
<div class="f O" style="left:1933px;top:518px;width:8px"></div>
<div class="f O" style="left:1940px;top:518px;width:39px"><span class="d">...</span></div>
<div class="f O" style="left:1978px;top:518px;width:6px"></div>
<div class="f O" style="left:1983px;top:518px;width:17px"></div>
<div class="f O" style="left:2053px;top:518px;width:148px"><span style="letter-spacing:0.88px">evaluate</span></div>
<div class="f O" style="left:2200px;top:518px;width:45px"><span class="d">...</span></div>
<div class="f O" style="left:2244px;top:518px;width:34px"></div>
<div class="f O" style="left:2277px;top:518px;width:11px"></div>
<div class="f O" style="left:2287px;top:518px;width:11px"></div>
<div class="f O" style="left:2297px;top:518px;width:7px"></div>
<div class="f O" style="left:2303px;top:518px;width:13px"></div>
<div class="f O" style="left:2315px;top:518px;width:33px"></div>
<div class="f O" style="left:2347px;top:518px;width:37px"></div>
<div class="f O" style="left:2451px;top:518px;width:7px"></div>
<div class="f O" style="left:2457px;top:518px;width:5px"></div>
<div class="f O" style="left:2461px;top:518px;width:6px"></div>
<div class="f O" style="left:2466px;top:518px;width:3px"></div>
<div class="f O" style="left:2468px;top:518px;width:10px"></div>
<div class="f O" style="left:2827px;top:518px;width:8px"></div>
<div class="f O" style="left:2837px;top:518px;width:8px"></div>
<div class="f O" style="left:2847px;top:518px;width:5px"></div>
<div class="f D" style="left:2853px;top:518px;width:35px"></div>
<div class="f O" style="left:2887px;top:518px;width:30px"></div>
<div class="f D" style="left:3003px;top:518px;width:7px"></div>
<div class="f O" style="left:3009px;top:518px;width:7px"></div>
<div class="f O" style="left:3019px;top:518px;width:5px"></div>
<div class="f O" style="left:3025px;top:518px;width:25px"></div>
<div class="f O" style="left:3049px;top:518px;width:3px"></div>
<div class="f S" style="left:-1px;top:550px;width:762px"><span style="letter-spacing:0.88px">o.o.j.d.o.QuadBuckets.search(BBox)</span></div>
<div class="f O" style="left:761px;top:550px;width:390px"><span>j.u.s.ReferencePipeline.collect</span></div>
<div class="f O" style="left:1150px;top:550px;width:3px"></div>
<div class="f O" style="left:1152px;top:550px;width:4px"></div>
<div class="f O" style="left:1155px;top:550px;width:55px"><span class="d">...</span></div>
<div class="f O" style="left:1209px;top:550px;width:17px"></div>
<div class="f D" style="left:1225px;top:550px;width:31px"></div>
<div class="f O" style="left:1255px;top:550px;width:20px"></div>
<div class="f O" style="left:1274px;top:550px;width:9px"></div>
<div class="f D" style="left:1282px;top:550px;width:30px"></div>
<div class="f O" style="left:1311px;top:550px;width:25px"></div>
<div class="f O" style="left:1335px;top:550px;width:18px"></div>
<div class="f S" style="left:1352px;top:550px;width:22px"></div>
<div class="f O" style="left:1373px;top:550px;width:7px"></div>
<div class="f O" style="left:1379px;top:550px;width:7px"></div>
<div class="f O" style="left:1385px;top:550px;width:7px"></div>
<div class="f O" style="left:1391px;top:550px;width:5px"></div>
<div class="f O" style="left:1397px;top:550px;width:349px"><span style="letter-spacing:1.09px">lambda$visitReferrers$7</span></div>
<div class="f O" style="left:1745px;top:550px;width:85px"><span class="d">...</span></div>
<div class="f D" style="left:1829px;top:550px;width:18px"></div>
<div class="f O" style="left:1846px;top:550px;width:63px"><span class="d">...</span></div>
<div class="f D" style="left:1908px;top:550px;width:18px"></div>
<div class="f O" style="left:1925px;top:550px;width:9px"></div>
<div class="f O" style="left:1933px;top:550px;width:8px"></div>
<div class="f O" style="left:1940px;top:550px;width:44px"><span class="d">...</span></div>
<div class="f O" style="left:1983px;top:550px;width:14px"></div>
<div class="f O" style="left:1996px;top:550px;width:4px"></div>
<div class="f O" style="left:2053px;top:550px;width:192px"><span style="letter-spacing:1.16px">anyMatch</span></div>
<div class="f O" style="left:2244px;top:550px;width:63px"><span class="d">...</span></div>
<div class="f O" style="left:2306px;top:550px;width:10px"></div>
<div class="f O" style="left:2315px;top:550px;width:33px"></div>
<div class="f O" style="left:2347px;top:550px;width:38px"><span class="d">...</span></div>
<div class="f D" style="left:2423px;top:550px;width:29px"></div>
<div class="f O" style="left:2451px;top:550px;width:7px"></div>
<div class="f O" style="left:2457px;top:550px;width:5px"></div>
<div class="f O" style="left:2461px;top:550px;width:6px"></div>
<div class="f O" style="left:2466px;top:550px;width:3px"></div>
<div class="f O" style="left:2468px;top:550px;width:10px"></div>
<div class="f D" style="left:2597px;top:550px;width:33px"></div>
<div class="f O" style="left:2827px;top:550px;width:8px"></div>
<div class="f D" style="left:2834px;top:550px;width:3px"></div>
<div class="f O" style="left:2837px;top:550px;width:9px"></div>
<div class="f O" style="left:2847px;top:550px;width:5px"></div>
<div class="f O" style="left:2853px;top:550px;width:35px"></div>
<div class="f O" style="left:2887px;top:550px;width:31px"></div>
<div class="f D" style="left:2993px;top:550px;width:11px"></div>
<div class="f O" style="left:3003px;top:550px;width:14px"></div>
<div class="f O" style="left:3019px;top:550px;width:5px"></div>
<div class="f O" style="left:3025px;top:550px;width:25px"></div>
<div class="f O" style="left:3049px;top:550px;width:3px"></div>
<div class="f S" style="left:-1px;top:582px;width:763px"><span>o.o.j.d.o.QuadBucketPrimitiveStore.searchWays(BBox)</span></div>
<div class="f S" style="left:761px;top:582px;width:395px"><span>searchRelations</span></div>
<div class="f O" style="left:1155px;top:582px;width:71px"><span class="d">...</span></div>
<div class="f O" style="left:1225px;top:582px;width:31px"></div>
<div class="f O" style="left:1255px;top:582px;width:20px"></div>
<div class="f O" style="left:1274px;top:582px;width:9px"></div>
<div class="f O" style="left:1282px;top:582px;width:30px"></div>
<div class="f O" style="left:1311px;top:582px;width:25px"></div>
<div class="f O" style="left:1335px;top:582px;width:18px"></div>
<div class="f S" style="left:1352px;top:582px;width:22px"></div>
<div class="f O" style="left:1373px;top:582px;width:14px"></div>
<div class="f O" style="left:1386px;top:582px;width:7px"></div>
<div class="f O" style="left:1392px;top:582px;width:5px"></div>
<div class="f D" style="left:1396px;top:582px;width:2px"></div>
<div class="f O" style="left:1397px;top:582px;width:349px"><span style="letter-spacing:1.52px">accept</span></div>
<div class="f O" style="left:1745px;top:582px;width:102px"><span class="d">...</span></div>
<div class="f O" style="left:1846px;top:582px;width:63px"><span class="d">...</span></div>
<div class="f O" style="left:1908px;top:582px;width:18px"></div>
<div class="f O" style="left:1925px;top:582px;width:9px"></div>
<div class="f O" style="left:1933px;top:582px;width:8px"></div>
<div class="f O" style="left:1940px;top:582px;width:60px"><span class="d">...</span></div>
<div class="f O" style="left:2053px;top:582px;width:263px"><span>applies</span></div>
<div class="f O" style="left:2315px;top:582px;width:33px"></div>
<div class="f O" style="left:2347px;top:582px;width:38px"><span class="d">...</span></div>
<div class="f D" style="left:2384px;top:582px;width:40px"><span class="d">...</span></div>
<div class="f O" style="left:2423px;top:582px;width:29px"></div>
<div class="f O" style="left:2451px;top:582px;width:11px"></div>
<div class="f O" style="left:2461px;top:582px;width:6px"></div>
<div class="f O" style="left:2466px;top:582px;width:12px"></div>
<div class="f O" style="left:2597px;top:582px;width:34px"></div>
<div class="f O" style="left:2827px;top:582px;width:9px"></div>
<div class="f D" style="left:2835px;top:582px;width:3px"></div>
<div class="f O" style="left:2837px;top:582px;width:9px"></div>
<div class="f D" style="left:2845px;top:582px;width:3px"></div>
<div class="f O" style="left:2847px;top:582px;width:6px"></div>
<div class="f D" style="left:2852px;top:582px;width:2px"></div>
<div class="f O" style="left:2853px;top:582px;width:65px"><span class="d">...</span></div>
<div class="f D" style="left:2917px;top:582px;width:37px"><span class="d">...</span></div>
<div class="f O" style="left:2994px;top:582px;width:23px"></div>
<div class="f D" style="left:3016px;top:582px;width:4px"></div>
<div class="f O" style="left:3019px;top:582px;width:5px"></div>
<div class="f O" style="left:3025px;top:582px;width:25px"></div>
<div class="f O" style="left:3049px;top:582px;width:3px"></div>
<div class="f S" style="left:-1px;top:614px;width:763px"><span style="letter-spacing:0.86px">o.o.j.d.o.DataSet.searchWays(BBox)</span></div>
<div class="f S" style="left:761px;top:614px;width:395px"><span>DataSet.searchRelations</span></div>
<div class="f O" style="left:1155px;top:614px;width:128px"><span>visit</span></div>
<div class="f O" style="left:1282px;top:614px;width:71px"><span>visit</span></div>
<div class="f S" style="left:1352px;top:614px;width:22px"></div>
<div class="f O" style="left:1373px;top:614px;width:24px"></div>
<div class="f S" style="left:1396px;top:614px;width:2px"></div>
<div class="f O" style="left:1397px;top:614px;width:349px"><span style="letter-spacing:1.08px">doVisitReferrers</span></div>
<div class="f O" style="left:1745px;top:614px;width:196px"><span style="letter-spacing:1.13px">matches</span></div>
<div class="f O" style="left:1940px;top:614px;width:61px"><span class="d">...</span></div>
<div class="f O" style="left:2053px;top:614px;width:295px"><span>applies</span></div>
<div class="f O" style="left:2347px;top:614px;width:39px"><span class="d">...</span></div>
<div class="f O" style="left:2385px;top:614px;width:39px"><span class="d">...</span></div>
<div class="f O" style="left:2423px;top:614px;width:29px"></div>
<div class="f O" style="left:2451px;top:614px;width:18px"></div>
<div class="f O" style="left:2468px;top:614px;width:10px"></div>
<div class="f D" style="left:2565px;top:614px;width:33px"></div>
<div class="f O" style="left:2597px;top:614px;width:34px"></div>
<div class="f D" style="left:2630px;top:614px;width:3px"></div>
<div class="f D" style="left:2693px;top:614px;width:52px"><span class="d">...</span></div>
<div class="f O" style="left:2827px;top:614px;width:11px"></div>
<div class="f O" style="left:2837px;top:614px;width:11px"></div>
<div class="f O" style="left:2847px;top:614px;width:7px"></div>
<div class="f O" style="left:2853px;top:614px;width:101px"><span style="letter-spacing:1.83px">get</span></div>
<div class="f O" style="left:2994px;top:614px;width:16px"></div>
<div class="f O" style="left:3009px;top:614px;width:15px"></div>
<div class="f O" style="left:3025px;top:614px;width:25px"></div>
<div class="f O" style="left:3049px;top:614px;width:3px"></div>
<div class="f S" style="left:-1px;top:646px;width:1399px"><span>o.o.j.g.m.m.Selector$ChildOrParentSelector.visitBBox</span></div>
<div class="f O" style="left:1397px;top:646px;width:349px"><span style="letter-spacing:0.98px">visitReferrers</span></div>
<div class="f O" style="left:1745px;top:646px;width:196px"><span style="letter-spacing:1.13px">matches</span></div>
<div class="f O" style="left:1940px;top:646px;width:61px"><span class="d">...</span></div>
<div class="f D" style="left:2000px;top:646px;width:54px"><span class="d">...</span></div>
<div class="f O" style="left:2053px;top:646px;width:426px"><span style="letter-spacing:1.13px">matches</span></div>
<div class="f O" style="left:2565px;top:646px;width:68px"><span class="d">...</span></div>
<div class="f D" style="left:2632px;top:646px;width:62px"><span class="d">...</span></div>
<div class="f O" style="left:2693px;top:646px;width:53px"><span class="d">...</span></div>
<div class="f D" style="left:2803px;top:646px;width:25px"></div>
<div class="f O" style="left:2827px;top:646px;width:21px"></div>
<div class="f O" style="left:2847px;top:646px;width:7px"></div>
<div class="f O" style="left:2853px;top:646px;width:102px"><span class="d">...</span></div>
<div class="f O" style="left:2994px;top:646px;width:16px"></div>
<div class="f O" style="left:3009px;top:646px;width:15px"></div>
<div class="f O" style="left:3025px;top:646px;width:25px"></div>
<div class="f O" style="left:3049px;top:646px;width:3px"></div>
<div class="f O" style="left:-1px;top:678px;width:2055px"><span style="letter-spacing:1.05px">org.openstreetmap.josm.gui.mappaint.mapcss.Selector$ChildOrParentSelector.matches(Environment)</span></div>
<div class="f O" style="left:2053px;top:678px;width:426px"><span style="letter-spacing:1.13px">matches</span></div>
<div class="f D" style="left:2478px;top:678px;width:88px"><span class="d">...</span></div>
<div class="f O" style="left:2565px;top:678px;width:68px"><span class="d">...</span></div>
<div class="f O" style="left:2632px;top:678px;width:62px"><span class="d">...</span></div>
<div class="f O" style="left:2693px;top:678px;width:53px"><span class="d">...</span></div>
<div class="f D" style="left:2745px;top:678px;width:31px"></div>
<div class="f D" style="left:2775px;top:678px;width:29px"></div>
<div class="f O" style="left:2803px;top:678px;width:25px"></div>
<div class="f O" style="left:2827px;top:678px;width:21px"></div>
<div class="f O" style="left:2847px;top:678px;width:7px"></div>
<div class="f O" style="left:2853px;top:678px;width:102px"><span style="letter-spacing:1.83px">get</span></div>
<div class="f D" style="left:2954px;top:678px;width:41px"><span class="d">...</span></div>
<div class="f O" style="left:2994px;top:678px;width:30px"></div>
<div class="f O" style="left:3025px;top:678px;width:25px"></div>
<div class="f O" style="left:3049px;top:678px;width:3px"></div>
<div class="f O" style="left:-1px;top:710px;width:2855px"><span style="letter-spacing:1.173px">org.openstreetmap.josm.data.validation.tests.<i style="letter-spacing:0.82px">MapCSSTagChecker.</i><i style="letter-spacing:0.934px">getErrorsForPrimitive(OsmPrimitive, boolean)</i></span></div>
<div class="f O" style="left:2853px;top:710px;width:102px"><span style="letter-spacing:1.83px">get</span></div>
<div class="f O" style="left:2954px;top:710px;width:41px"><span class="d">...</span></div>
<div class="f O" style="left:2994px;top:710px;width:30px"></div>
<div class="f O" style="left:3025px;top:710px;width:25px"></div>
<div class="f O" style="left:3049px;top:710px;width:3px"></div>
<div class="f O" style="left:-1px;top:742px;width:2996px"><span style="letter-spacing:1.173px">org.openstreetmap.josm.data.validation.tests.<i style="letter-spacing:0.82px">MapCSSTagChecker.</i><i style="letter-spacing:1.045px">check(OsmPrimitive)</i></span></div>
<div class="f O" style="left:2994px;top:742px;width:31px"></div>
<div class="f D" style="left:3024px;top:742px;width:2px"></div>
<div class="f O" style="left:3025px;top:742px;width:25px"></div>
<div class="f O" style="left:3049px;top:742px;width:3px"></div>
<div class="f O" style="left:-1px;top:774px;width:3026px"><span style="letter-spacing:1.173px">org.openstreetmap.josm.data.validation.tests.<i style="letter-spacing:0.82px">MapCSSTagChecker.</i><i style="letter-spacing:0.977px">visit(String, Set, Collection, Set)</i></span></div>
<div class="f O" style="left:3025px;top:774px;width:27px"></div>
<div class="f O" style="left:-1px;top:806px;width:3026px"><span style="letter-spacing:1.173px">org.openstreetmap.josm.data.validation.tests.<i style="letter-spacing:0.82px">MapCSSTagChecker.</i><i style="letter-spacing:1.027px">visit(Collection, Predicate)</i></span></div>
<div class="f O" style="left:3025px;top:806px;width:27px"></div>
<div class="f O" style="left:-1px;top:838px;width:3026px"><span style="letter-spacing:1.173px">org.openstreetmap.josm.data.validation.tests.<i style="letter-spacing:0.82px">MapCSSTagChecker.</i><i style="letter-spacing:1.121px">visit(Collection)</i></span></div>
<div class="f O" style="left:3025px;top:838px;width:27px"></div>
<div id="tip"><span>o.o.j.d.o.Way.getBBox()</span></div>
</div></body></html>
